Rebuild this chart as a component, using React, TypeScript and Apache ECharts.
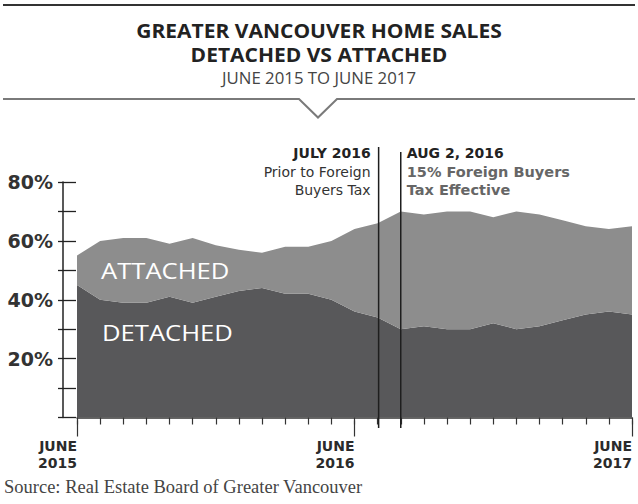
import React, { useEffect, useRef } from "react";
import * as echarts from "echarts";

const months = [
  "Jun 2015", "Jul 2015", "Aug 2015", "Sep 2015", "Oct 2015", "Nov 2015", "Dec 2015",
  "Jan 2016", "Feb 2016", "Mar 2016", "Apr 2016", "May 2016", "Jun 2016",
  "Jul 2016", "Aug 2016", "Sep 2016", "Oct 2016", "Nov 2016", "Dec 2016",
  "Jan 2017", "Feb 2017", "Mar 2017", "Apr 2017", "May 2017", "Jun 2017",
];
const detached = [45, 40, 39, 39, 41, 39, 41, 43, 44, 42, 42, 40, 36, 34, 30, 31, 30, 30, 32, 30, 31, 33, 35, 36, 35];
const attached = [10, 20, 22, 22, 18, 22, 17.5, 14, 12, 16, 16, 20, 28, 32, 40, 38, 40, 40, 36, 40, 38, 34, 30, 28, 30];
const majorLabels: Record<string, string> = {
  "Jun 2015": "JUNE\n2015",
  "Jun 2016": "JUNE\n2016",
  "Jun 2017": "JUNE\n2017",
};
const yTickLabels = [20, 40, 60, 80];
const eventJuly = "Jul 2016";
const eventAug = "Aug 2016";

const SANS = "'Open Sans', 'Noto Sans', sans-serif";
const DJV = "'DejaVu Sans', sans-serif";
const DARK = "#2b2b2b";

export default function App() {
  const ref = useRef<HTMLDivElement>(null);
  useEffect(() => {
    if (!ref.current) return;
    const chart = echarts.init(ref.current, null, { renderer: "svg" });
    const isMajor = (i: number) => !!majorLabels[months[i]];
    const baseX = {
      type: "category" as const,
      data: months,
      boundaryGap: false,
      position: "bottom" as const,
    };
    const option: any = {
      animation: false,
      backgroundColor: "#ffffff",
      grid: { left: 77, right: 6, top: 182, bottom: 86.5 },
      xAxis: [
        {
          ...baseX,
          axisLine: { show: true, lineStyle: { color: "#333", width: 1.5 } },
          axisTick: { show: false },
          axisLabel: { show: false },
        },
        {
          ...baseX,
          offset: 3,
          axisLine: { show: false },
          axisTick: { show: true, length: 7, interval: 0, lineStyle: { color: "#333", width: 1.2 } },
          axisLabel: { show: false },
        },
        {
          ...baseX,
          offset: 3,
          axisLine: { show: false },
          axisTick: {
            show: true,
            length: 16,
            interval: (i: number) => isMajor(i),
            lineStyle: { color: "#333", width: 1.2 },
          },
          axisLabel: {
            show: true,
            interval: (i: number) => isMajor(i),
            formatter: (v: string) => majorLabels[v] || "",
            align: "right",
            margin: 17,
            fontFamily: DJV,
            fontWeight: 700,
            fontSize: 14,
            lineHeight: 17,
            color: DARK,
          },
        },
      ],
      yAxis: [
        {
          type: "value",
          position: "left",
          offset: 14,
          min: 0,
          max: 80,
          interval: 10,
          splitLine: { show: false },
          axisLine: { show: true, lineStyle: { color: "#222", width: 1.5 } },
          axisTick: { show: true, length: 5, lineStyle: { color: "#222", width: 1.3 } },
          axisLabel: {
            margin: 10,
            formatter: (v: number) => (yTickLabels.indexOf(v) >= 0 ? v + "%" : ""),
            fontFamily: DJV,
            fontWeight: 700,
            fontSize: 19,
            color: "#333",
          },
        },
        {
          type: "value",
          position: "left",
          offset: 14,
          min: 0,
          max: 80,
          interval: 10,
          splitLine: { show: false },
          axisLine: { show: false },
          axisTick: { show: true, inside: true, length: 13, lineStyle: { color: "#222", width: 1.3 } },
          axisLabel: { show: false },
        },
      ],
      series: [
        {
          name: "Detached",
          type: "line",
          stack: "total",
          data: detached,
          symbol: "none",
          lineStyle: { width: 0 },
          areaStyle: { color: "#58585a", opacity: 1 },
          z: 2,
        },
        {
          name: "Attached",
          type: "line",
          stack: "total",
          data: attached,
          symbol: "none",
          lineStyle: { width: 0 },
          areaStyle: { color: "#8d8d8d", opacity: 1 },
          z: 2,
        },
      ],
    };
    chart.setOption(option);

    const xJul = chart.convertToPixel({ xAxisIndex: 0 }, eventJuly) as number;
    const xAug = chart.convertToPixel({ xAxisIndex: 0 }, eventAug) as number;

    const graphic: any[] = [
      { type: "line", shape: { x1: 3, y1: 5, x2: 635, y2: 5 }, style: { stroke: "#333", lineWidth: 2 } },
      {
        type: "polyline",
        shape: { points: [[3, 99], [299, 99], [318, 117.5], [337, 99], [635, 99]] },
        style: { stroke: "#7a7a7a", lineWidth: 2, fill: null },
      },
      {
        type: "text", x: 319, y: 30, scaleX: 1.05,
        style: { text: "GREATER VANCOUVER HOME SALES", font: `700 20px ${SANS}`, fill: "#222", align: "center", verticalAlign: "middle" },
      },
      {
        type: "text", x: 319, y: 54, scaleX: 1.05,
        style: { text: "DETACHED VS ATTACHED", font: `700 20px ${SANS}`, fill: "#222", align: "center", verticalAlign: "middle" },
      },
      {
        type: "text", x: 319, y: 78, scaleX: 1.05,
        style: { text: "JUNE 2015 TO JUNE 2017", font: `400 16px ${SANS}`, fill: "#444", align: "center", verticalAlign: "middle" },
      },
      {
        type: "text", x: 101, y: 271, z: 10, scaleX: 1.22,
        style: { text: "ATTACHED", font: `400 21px ${SANS}`, fill: "#ffffff", align: "left", verticalAlign: "middle" },
      },
      {
        type: "text", x: 102, y: 333, z: 10, scaleX: 1.22,
        style: { text: "DETACHED", font: `400 21px ${SANS}`, fill: "#ffffff", align: "left", verticalAlign: "middle" },
      },
      { type: "line", z: 20, shape: { x1: xJul + 1, y1: 147, x2: xJul + 1, y2: 428 }, style: { stroke: "#1e1e1e", lineWidth: 1.5 } },
      { type: "line", z: 20, shape: { x1: xAug, y1: 152, x2: xAug, y2: 428 }, style: { stroke: "#1e1e1e", lineWidth: 1.5 } },
      {
        type: "text", x: xJul - 7, y: 153,
        style: { text: "JULY 2016", font: `700 14px ${DJV}`, fill: "#222", align: "right", verticalAlign: "middle" },
      },
      {
        type: "text", x: xJul - 7, y: 181,
        style: { text: "Prior to Foreign\nBuyers Tax", font: `400 14px ${DJV}`, lineHeight: 18, fill: "#333", align: "right", verticalAlign: "middle" },
      },
      {
        type: "text", x: xAug + 6, y: 153,
        style: { text: "AUG 2, 2016", font: `700 14px ${DJV}`, fill: "#222", align: "left", verticalAlign: "middle" },
      },
      {
        type: "text", x: xAug + 6, y: 181,
        style: { text: "15% Foreign Buyers\nTax Effective", font: `700 14.5px ${DJV}`, lineHeight: 18, fill: "#666", align: "left", verticalAlign: "middle" },
      },
      {
        type: "text", x: 4, y: 487,
        style: { text: "Source: Real Estate Board of Greater Vancouver", font: `400 18.5px 'Liberation Serif', serif`, fill: "#444", align: "left", verticalAlign: "middle" },
      },
    ];
    chart.setOption({ graphic });
    return () => chart.dispose();
  }, []);
  return (
    <div
      ref={ref}
      style={{ position: "fixed", left: 0, top: 0, width: 638, height: 504, background: "#fff" }}
    />
  );
}
